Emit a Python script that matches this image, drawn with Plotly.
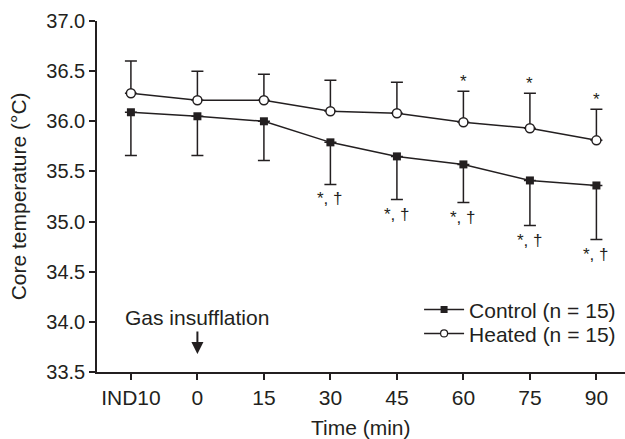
import plotly.graph_objects as go

categories = ["IND10", "0", "15", "30", "45", "60", "75", "90"]
control_mean = [36.09, 36.05, 36.00, 35.79, 35.65, 35.57, 35.41, 35.36]
control_sd = [0.43, 0.39, 0.39, 0.42, 0.43, 0.38, 0.45, 0.54]
heated_mean = [36.28, 36.21, 36.21, 36.10, 36.08, 35.99, 35.93, 35.81]
heated_sd = [0.32, 0.29, 0.26, 0.31, 0.31, 0.31, 0.35, 0.31]
heated_marks = ["", "", "", "", "", "*", "*", "*"]
control_marks = ["", "", "", "*, †", "*, †", "*, †", "*, †", "*, †"]

INK = "#231f20"
FONT = "Liberation Sans, Arial, sans-serif"
xi = list(range(len(categories)))

fig = go.Figure()
fig.add_trace(go.Scatter(
    x=xi, y=control_mean, mode="lines+markers", name="Control (n = 15)", showlegend=False,
    line=dict(color=INK, width=1.5),
    marker=dict(symbol="square", size=8, color=INK),
    error_y=dict(type="data", symmetric=False, array=[0] * 8, arrayminus=control_sd,
                 color=INK, thickness=1.5, width=6),
))
fig.add_trace(go.Scatter(
    x=xi, y=heated_mean, mode="lines+markers", name="Heated (n = 15)", showlegend=False,
    line=dict(color=INK, width=1.5),
    marker=dict(symbol="circle", size=9, color="white", line=dict(color=INK, width=1.5)),
    error_y=dict(type="data", symmetric=False, array=heated_sd, arrayminus=[0] * 8,
                 color=INK, thickness=1.5, width=6),
))
# legend entries (smaller symbols as in the original key), one legend per row
fig.add_trace(go.Scatter(
    x=[None], y=[None], mode="lines+markers", name="Control (n = 15)", legend="legend",
    line=dict(color=INK, width=1.5), marker=dict(symbol="square", size=7, color=INK),
))
fig.add_trace(go.Scatter(
    x=[None], y=[None], mode="lines+markers", name="Heated (n = 15)", legend="legend2",
    line=dict(color=INK, width=1.5),
    marker=dict(symbol="circle", size=7, color="white", line=dict(color=INK, width=1.2)),
))

annotations = []
for i, t in enumerate(heated_marks):
    if t:
        annotations.append(dict(x=i, y=heated_mean[i] + heated_sd[i], text=t, showarrow=False,
                                yanchor="bottom", yshift=-2, font=dict(size=17, color=INK, family=FONT)))
for i, t in enumerate(control_marks):
    if t:
        annotations.append(dict(x=i, y=control_mean[i] - control_sd[i], text=t, showarrow=False,
                                yanchor="top", yshift=-3, font=dict(size=17, color=INK, family=FONT)))

annotations.append(dict(x=1, y=34.045, text="Gas insufflation", showarrow=False,
                        font=dict(size=21, color=INK, family=FONT)))
annotations.append(dict(x=1, y=33.68, ax=0, ay=-24, text="", showarrow=True,
                        arrowhead=2, arrowsize=1.2, arrowwidth=2, arrowcolor=INK))
annotations.append(dict(xref="paper", yref="paper", x=-0.148, y=0.5, text="Core temperature (°C)",
                        textangle=-90, showarrow=False, xanchor="center", yanchor="middle",
                        font=dict(size=21, color=INK, family=FONT)))
annotations.append(dict(xref="paper", yref="paper", x=0.5, y=-0.157, text="Time (min)",
                        showarrow=False, xanchor="center", yanchor="middle",
                        font=dict(size=21, color=INK, family=FONT)))

legend_common = dict(xanchor="left", yanchor="middle", bgcolor="rgba(0,0,0,0)",
                     font=dict(size=21, color=INK, family=FONT), itemwidth=40)

fig.update_layout(
    width=625, height=439,
    margin=dict(l=97, r=0, t=21, b=67),
    paper_bgcolor="white", plot_bgcolor="white",
    font=dict(family=FONT, size=20, color=INK),
    showlegend=True,
    legend=dict(x=0.61, y=0.177, **legend_common),
    legend2=dict(x=0.61, y=0.109, **legend_common),
    annotations=annotations,
    xaxis=dict(
        range=[-0.51, 7.43], tickmode="array", tickvals=xi, ticktext=categories,
        showgrid=False, zeroline=False, showline=True, linecolor=INK, linewidth=1.5,
        ticks="outside", ticklen=6, tickwidth=1.5, tickcolor=INK, automargin=False,
        tickfont=dict(size=21),
    ),
    yaxis=dict(
        range=[33.5, 37.0], tickmode="array",
        tickvals=[33.5, 34.0, 34.5, 35.0, 35.5, 36.0, 36.5, 37.0],
        ticktext=["33.5", "34.0", "34.5", "35.0", "35.5", "36.0", "36.5", "37.0"],
        showgrid=False, zeroline=False, showline=True, linecolor=INK, linewidth=1.5,
        ticks="outside", ticklen=6, tickwidth=1.5, tickcolor=INK, automargin=False,
        tickfont=dict(size=20),
    ),
)

fig.write_html("out.html", config={"displayModeBar": False},
               post_script="document.body.style.margin='0px';")
